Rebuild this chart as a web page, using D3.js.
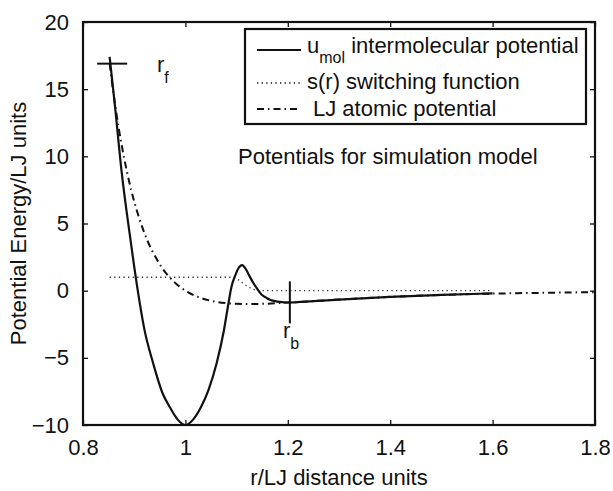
<!DOCTYPE html>
<html>
<head>
<meta charset="utf-8">
<script src="https://cdn.jsdelivr.net/npm/d3@7"></script>
<style>
body { margin: 0; background: #fff; }
svg text { font-family: "Liberation Sans", Arial, Helvetica, sans-serif; fill: #111; }
</style>
</head>
<body>
<svg id="chart" width="613" height="491"></svg>
<script>
'use strict';

// r values and potentials
var umolR = [0.852, 0.862, 0.875, 0.892, 0.907, 0.92, 0.937, 0.955, 0.97, 0.985, 1.0, 1.015, 1.03, 1.045, 1.061,
	1.075, 1.083, 1.09, 1.098, 1.105, 1.111, 1.118, 1.125, 1.133, 1.14, 1.149, 1.157, 1.165, 1.175, 1.185, 1.2,
	1.25, 1.3, 1.4, 1.5, 1.6];
var umolE = [17.4, 13.9, 9.0, 4.0, 0, -2.9, -5.4, -7.6, -8.7, -9.6, -10, -9.6, -8.7, -7.4, -5.4,
	-3.0, -1.2, 0.3, 1.2, 1.75, 1.9, 1.6, 1.1, 0.55, 0.15, -0.3, -0.5, -0.68, -0.78, -0.84, -0.88,
	-0.78, -0.66, -0.46, -0.32, -0.2];

var switchR = [0.852, 1.088, 1.1, 1.11, 1.12, 1.13, 1.14, 1.15, 1.6];
var switchS = [1, 1, 0.88, 0.62, 0.35, 0.13, 0.03, 0, 0];

var ljR = [0.852, 0.86, 0.87, 0.88, 0.89, 0.9, 0.92, 0.95, 0.98, 1.0, 1.03, 1.06, 1.1, 1.122, 1.15, 1.2,
	1.3, 1.4, 1.5, 1.6, 1.7, 1.8];
var ljE = [16.9, 14.55, 12.05, 9.93, 8.15, 6.64, 4.28, 1.96, 0.58, 0, -0.54, -0.83, -0.98, -1.0, -0.98, -0.89,
	-0.66, -0.46, -0.32, -0.22, -0.16, -0.11];

var xTicks = [0.8, 1, 1.2, 1.4, 1.6, 1.8];
var xTickLabels = ["0.8", "1", "1.2", "1.4", "1.6", "1.8"];
var yTicks = [-10, -5, 0, 5, 10, 15, 20];
var yTickLabels = ["\u221210", "\u22125", "0", "5", "10", "15", "20"];

var rf = [0.857, 16.9];
var rb = [1.204, -0.87];

var svg = d3.select('#chart');
var pLeft = 83, pRight = 595, pTop = 22, pBottom = 425;
var FS = 22;
var DOTS = '1.3,3.3', DASHDOT = '7,4,1.5,4';

var x = d3.scaleLinear().domain([0.8, 1.8]).range([pLeft, pRight]);
var y = d3.scaleLinear().domain([-10, 20]).range([pBottom, pTop]);

function zip(a, b) { return a.map(function (v, i) { return [v, b[i]]; }); }

var line = d3.line()
	.x(function (d) { return x(d[0]); })
	.y(function (d) { return y(d[1]); })
	.curve(d3.curveMonotoneX);

// axes, ticks pointing inward
function styleAxis(g) {
	g.select('.domain').remove();
	g.selectAll('.tick line').attr('stroke', '#111').attr('stroke-width', 1.3);
	g.selectAll('text').attr('font-size', FS).attr('font-family', '"Liberation Sans", Arial, sans-serif').attr('fill', '#111');
}

svg.append('g').attr('transform', 'translate(0,' + pBottom + ')')
	.call(d3.axisBottom(x).tickValues(xTicks).tickSize(-5).tickPadding(14)
		.tickFormat(function (d, i) { return xTickLabels[i]; }))
	.call(styleAxis);
svg.append('g').attr('transform', 'translate(0,' + pTop + ')')
	.call(d3.axisTop(x).tickValues(xTicks).tickSize(-5).tickFormat(''))
	.call(styleAxis);
svg.append('g').attr('transform', 'translate(' + pLeft + ',0)')
	.call(d3.axisLeft(y).tickValues(yTicks).tickSize(-5).tickPadding(14)
		.tickFormat(function (d, i) { return yTickLabels[i]; }))
	.call(styleAxis);
svg.append('g').attr('transform', 'translate(' + pRight + ',0)')
	.call(d3.axisRight(y).tickValues(yTicks).tickSize(-5).tickFormat(''))
	.call(styleAxis);

svg.append('rect')
	.attr('x', pLeft).attr('y', pTop)
	.attr('width', pRight - pLeft).attr('height', pBottom - pTop)
	.attr('fill', 'none').attr('stroke', '#111').attr('stroke-width', 2.2);

// curves
svg.append('path').datum(zip(ljR, ljE))
	.attr('d', line).attr('fill', 'none').attr('stroke', '#111')
	.attr('stroke-width', 2).attr('stroke-dasharray', DASHDOT);
svg.append('path').datum(zip(switchR, switchS))
	.attr('d', line).attr('fill', 'none').attr('stroke', '#333')
	.attr('stroke-width', 1.3).attr('stroke-dasharray', DOTS);
svg.append('path').datum(zip(umolR, umolE))
	.attr('d', line).attr('fill', 'none').attr('stroke', '#111')
	.attr('stroke-width', 2.2);

// r_f and r_b markers
svg.append('line')
	.attr('x1', x(rf[0]) - 15).attr('x2', x(rf[0]) + 15)
	.attr('y1', y(rf[1])).attr('y2', y(rf[1]))
	.attr('stroke', '#111').attr('stroke-width', 2);
svg.append('line')
	.attr('x1', x(rb[0])).attr('x2', x(rb[0]))
	.attr('y1', y(rb[1]) - 21).attr('y2', y(rb[1]) + 21)
	.attr('stroke', '#111').attr('stroke-width', 2);

function subLabel(px, py, main, sub) {
	var t = svg.append('text').attr('x', px).attr('y', py).attr('font-size', FS);
	t.append('tspan').text(main);
	t.append('tspan').attr('font-size', 16).attr('dy', 11).text(sub);
	return t;
}
subLabel(157, 72, 'r', 'f');
subLabel(283, 338, 'r', 'b');

svg.append('text').attr('x', 238).attr('y', 164).attr('font-size', FS)
	.text('Potentials for simulation model');

// legend
var lg = svg.append('g');
lg.append('rect').attr('x', 245).attr('y', 29).attr('width', 341).attr('height', 95)
	.attr('fill', '#fff').attr('stroke', '#111').attr('stroke-width', 2.2);
var legendRows = [
	{ y: 50, dash: null, w: 2.2 },
	{ y: 83, dash: DOTS, w: 1.3 },
	{ y: 109, dash: DASHDOT, w: 2 }
];
legendRows.forEach(function (r) {
	lg.append('line').attr('x1', 257).attr('x2', 301).attr('y1', r.y).attr('y2', r.y)
		.attr('stroke', '#111').attr('stroke-width', r.w)
		.attr('stroke-dasharray', r.dash);
});
var t1 = lg.append('text').attr('x', 307).attr('y', 53).attr('font-size', FS);
t1.append('tspan').text('u');
t1.append('tspan').attr('font-size', 16).attr('dy', 10).text('mol');
t1.append('tspan').attr('dy', -10).text(' intermolecular potential');
lg.append('text').attr('x', 307).attr('y', 89).attr('font-size', FS).text('s(r) switching function');
lg.append('text').attr('x', 313).attr('y', 116).attr('font-size', FS).text('LJ atomic potential');

// axis titles
svg.append('text').attr('x', (pLeft + pRight) / 2).attr('y', 485).attr('text-anchor', 'middle')
	.attr('font-size', FS).text('r/LJ distance units');
svg.append('text').attr('transform', 'translate(26,' + (pTop + pBottom) / 2 + ') rotate(-90)')
	.attr('text-anchor', 'middle').attr('font-size', FS).text('Potential Energy/LJ units');
</script>
</body>
</html>
